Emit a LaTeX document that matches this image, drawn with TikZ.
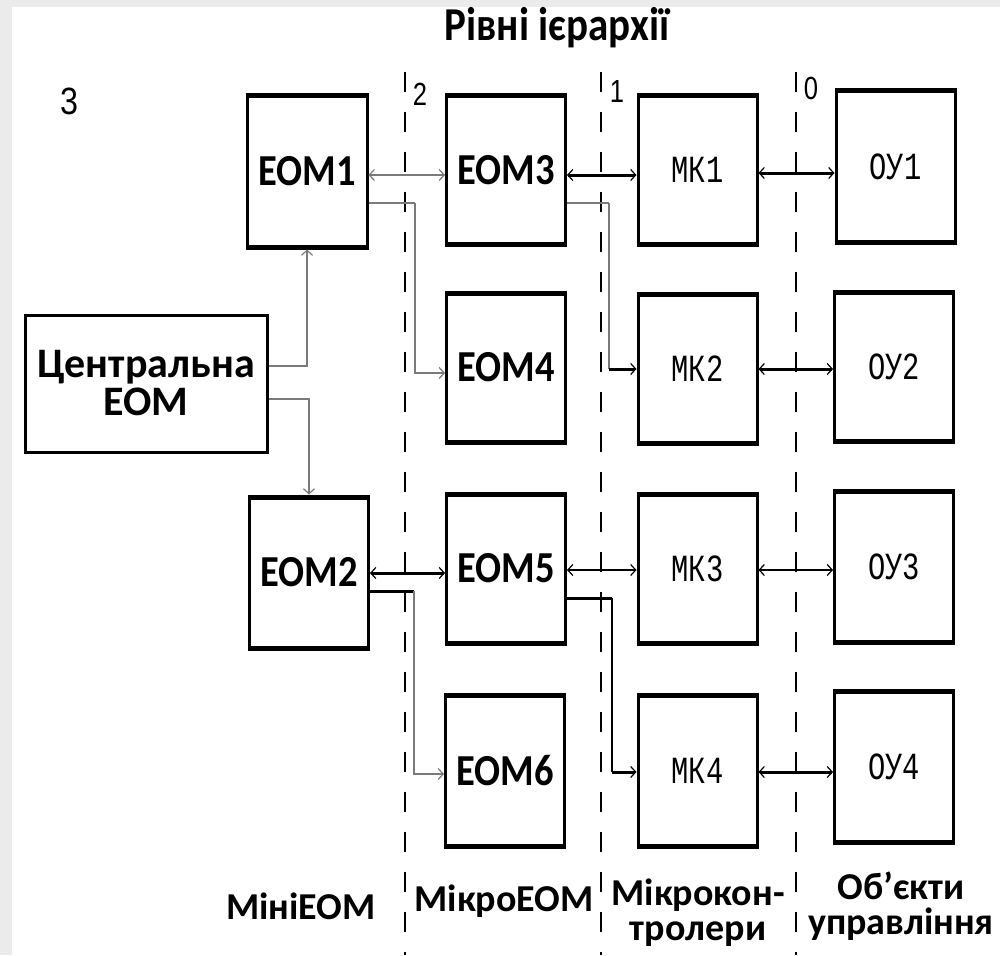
\documentclass[tikz,border=0pt]{standalone}
\usepackage{fontspec}
\usepackage{graphicx}
\setmainfont{Carlito}
\newfontfamily\mkfont{Liberation Mono}
\newfontfamily\digfont{Liberation Sans}
\usetikzlibrary{arrows.meta}
\definecolor{lgray}{HTML}{7A7A7A}
\definecolor{bandgray}{HTML}{EBEBEB}
\newcommand{\tallt}[1]{\scalebox{1}[1.15]{#1}}
\newcommand{\mkt}[1]{\scalebox{0.9}[1.2]{#1}}
\begin{document}
\begin{tikzpicture}[x=1pt,y=-1pt,
  box/.style={draw=black, line width=3pt, minimum width=119pt, minimum height=151pt, inner sep=0pt, fill=white},
  eomtext/.style={font=\fontsize{38.5}{38}\selectfont\bfseries},
  mktext/.style={font=\fontsize{32}{32}\selectfont\mkfont},
  lvl/.style={font=\fontsize{38}{35}\selectfont\bfseries, align=center, inner sep=0pt},
  dig/.style={font=\fontsize{32}{32}\selectfont\digfont, inner sep=0pt},
  sep/.style={line width=2.5pt, dash pattern=on 20pt off 20pt},
  tp/.tip={Straight Barb[length=5pt,width=11pt,line width=1.2pt]},
  thinc/.style={draw=lgray, line width=1.3pt},
  grayc/.style={draw=lgray, line width=2.6pt},
  thickc/.style={draw=black, line width=3pt},
  medc/.style={draw=black, line width=1.6pt},
]
\useasboundingbox (0,0) rectangle (1000,955);
\fill[white] (0,0) rectangle (1000,955);
\fill[bandgray] (0,0) rectangle (1000,7);
\fill[bandgray] (0,0) rectangle (12,955);

% title
\node[font=\fontsize{41}{41}\selectfont\bfseries, inner sep=0pt] (title) at (557,28) {\tallt{Рівні ієрархії}};

% level separators
\coordinate (s2t) at (405,72); \coordinate (s2b) at (405,955);
\coordinate (s1t) at (601,72); \coordinate (s1b) at (601,955);
\coordinate (s0t) at (796,72); \coordinate (s0b) at (796,955);
\draw[sep] (s2t) -- (s2b);
\draw[sep] (s1t) -- (s1b);
\draw[sep] (s0t) -- (s0b);

% level numbers
\node[dig, font=\fontsize{38}{38}\selectfont\digfont] (n3) at (69,101) {\scalebox{0.85}[1]{3}};
\node[dig] (n2) at (420,94) {\scalebox{0.8}[1]{2}};
\node[dig] (n1) at (617,91) {\scalebox{0.8}[1]{1}};
\node[dig] (n0) at (811,88) {\scalebox{0.8}[1]{0}};

% boxes
\node[box, minimum width=242pt, minimum height=137pt, font=\fontsize{42}{38}\selectfont\bfseries, align=center] (cen) at (146,383.5) {Центральна\\ЕОМ};

\node[box, eomtext, minimum width=120pt, minimum height=153pt] (eom1) at (307,171.5) {\tallt{ЕОМ1}};
\node[box, eomtext, minimum height=153pt] (eom2) at (309,572.5) {\tallt{ЕОМ2}};
\node[box, eomtext, minimum height=150pt] (eom3) at (506,170) {\tallt{ЕОМ3}};
\node[box, eomtext] (eom4) at (506,367.5) {\tallt{ЕОМ4}};
\node[box, eomtext] (eom5) at (506,568.5) {\tallt{ЕОМ5}};
\node[box, eomtext, minimum height=153pt] (eom6) at (505,770.5) {\tallt{ЕОМ6}};

\node[box, mktext, minimum height=150pt] (mk1) at (697.5,170) {\mkt{МК1}};
\node[box, mktext] (mk2) at (697.5,368.5) {\mkt{МК2}};
\node[box, mktext] (mk3) at (697.5,568.5) {\mkt{МК3}};
\node[box, mktext, minimum height=153pt] (mk4) at (697.5,770.5) {\mkt{МК4}};

\node[box, mktext, minimum height=153pt] (oy1) at (895.5,166.5) {\mkt{ОУ1}};
\node[box, mktext] (oy2) at (894,366.5) {\mkt{ОУ2}};
\node[box, mktext, minimum height=153pt] (oy3) at (894,566.5) {\mkt{ОУ3}};
\node[box, mktext, minimum height=153pt] (oy4) at (894,766.5) {\mkt{ОУ4}};

% heavier top and bottom edges
\foreach \b in {eom1,eom2,eom3,eom4,eom5,eom6,mk1,mk2,mk3,mk4,oy1,oy2,oy3,oy4}{
  \draw[line width=5pt] ([yshift=-2.5pt]\b.north west) -- ([yshift=-2.5pt]\b.north east);
  \draw[line width=4.5pt] ([yshift=2.25pt]\b.south west) -- ([yshift=2.25pt]\b.south east);
}

% connectors
\draw[thinc,-{tp}] (cen.east |- 0,366) -| (eom1.south);
\draw[thinc,-{tp}] (cen.east |- 0,399) -| (eom2.north);

\draw[grayc,{tp}-{tp}] (eom1.east |- 0,175) -- (eom3.west |- 0,175);
\draw[grayc] (eom1.east |- 0,203) -- (415,203);
\draw[thinc,-{tp}] (415,203) |- (eom4.west |- 0,373);

\draw[thickc,{tp}-{tp}] (eom2.east |- 0,573) -- (eom5.west |- 0,573);
\draw[thickc] (eom2.east |- 0,591) -- (414,591);
\draw[thinc,-{tp}] (414,591) |- (eom6.west |- 0,774);

\draw[thickc,{tp}-{tp}] (eom3.east |- 0,175) -- (mk1.west |- 0,175);
\draw[grayc] (eom3.east |- 0,203) -- (609,203);
\draw[thinc] (609,203) -- (609,369);
\draw[thickc,-{tp}] (609,369) -- (mk2.west |- 0,369);

\draw[medc,{tp}-{tp}] (eom5.east |- 0,570) -- (mk3.west |- 0,570);
\draw[thickc] (eom5.east |- 0,598) -- (612,598);
\draw[medc] (612,598) -- (612,772);
\draw[thickc,-{tp}] (612,772) -- (mk4.west |- 0,772);

\draw[thickc,{tp}-{tp}] (mk1.east |- 0,173) -- (oy1.west |- 0,173);
\draw[thickc,{tp}-{tp}] (mk2.east |- 0,369) -- (oy2.west |- 0,369);
\draw[medc,{tp}-{tp}] (mk3.east |- 0,570) -- (oy3.west |- 0,570);
\draw[thickc,{tp}-{tp}] (mk4.east |- 0,772) -- (oy4.west |- 0,772);

% level names
\node[lvl] (l3) at (301,906) {МініЕОМ};
\node[lvl] (l2) at (504,901) {МікроЕОМ};
\node[lvl] (l1) at (698,913) {Мікрокон-\\тролери};
\node[lvl] (l0) at (901,906) {Об’єкти\\управління};
\end{tikzpicture}
\end{document}
